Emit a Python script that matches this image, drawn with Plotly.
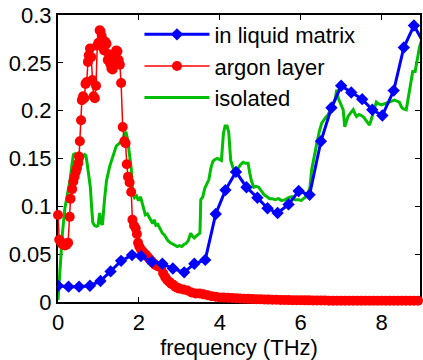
import plotly.graph_objects as go

# ---- data ----
blue_x = [0.00, 0.26, 0.52, 0.79, 1.05, 1.30, 1.56, 1.83, 2.05, 2.32, 2.58, 2.84, 3.12, 3.37, 3.64,
          3.90, 4.14, 4.40, 4.66, 4.93, 5.18, 5.43, 5.70, 5.95, 6.22, 6.50, 6.76, 7.00, 7.25, 7.52,
          7.77, 8.02, 8.30, 8.55, 8.80, 9.05]
blue_y = [0.017, 0.016, 0.016, 0.017, 0.022, 0.032, 0.043, 0.049, 0.048, 0.042, 0.040, 0.035, 0.031, 0.040, 0.044,
          0.092, 0.117, 0.136, 0.120, 0.109, 0.098, 0.093, 0.102, 0.116, 0.112, 0.168, 0.203, 0.226, 0.219, 0.212,
          0.201, 0.195, 0.221, 0.266, 0.289, 0.270]

red_x = [0.00, 0.03, 0.07, 0.10, 0.13, 0.17, 0.21, 0.25, 0.29, 0.31, 0.35, 0.38, 0.41, 0.44, 0.47,
         0.50, 0.52, 0.54, 0.57, 0.59, 0.62, 0.65, 0.68, 0.71, 0.74, 0.76, 0.79, 0.82, 0.85, 0.88,
         0.91, 0.94, 0.97, 1.00, 1.03, 1.05, 1.08, 1.11, 1.14, 1.17, 1.20, 1.23, 1.26, 1.29, 1.32,
         1.35, 1.38, 1.41, 1.44, 1.47, 1.50, 1.53, 1.56, 1.60, 1.64, 1.67, 1.70, 1.73, 1.77, 1.81,
         1.84, 1.88, 1.92, 1.95, 1.98, 2.01, 2.05, 2.09, 2.13, 2.18, 2.22, 2.26, 2.30, 2.35, 2.40,
         2.45, 2.50, 2.55, 2.60, 2.65, 2.70, 2.75, 2.80, 2.85, 2.90, 2.95, 3.00, 3.10, 3.20, 3.30,
         3.40, 3.50, 3.60, 3.70, 3.80, 3.90, 4.00, 4.10, 4.20, 4.30, 4.40, 4.50, 4.60, 4.70, 4.80,
         4.90, 5.00, 5.10, 5.20, 5.30, 5.40, 5.50, 5.60, 5.70, 5.80, 5.90, 6.00, 6.10, 6.20, 6.30,
         6.40, 6.50, 6.60, 6.70, 6.80, 6.90, 7.00, 7.10, 7.20, 7.30, 7.40, 7.50, 7.60, 7.70, 7.80,
         7.90, 8.00, 8.10, 8.20, 8.30, 8.40, 8.50, 8.60, 8.70, 8.80, 8.90]
red_y = [0.091, 0.065, 0.063, 0.061, 0.060, 0.059, 0.060, 0.062, 0.089, 0.108, 0.118, 0.126, 0.131, 0.136, 0.140,
         0.145, 0.152, 0.168, 0.190, 0.211, 0.215, 0.213, 0.228, 0.230, 0.251, 0.258, 0.265, 0.256, 0.232, 0.215,
         0.213, 0.226, 0.268, 0.271, 0.284, 0.283, 0.278, 0.271, 0.263, 0.272, 0.270, 0.253, 0.259, 0.249, 0.244,
         0.243, 0.250, 0.256, 0.263, 0.262, 0.253, 0.248, 0.229, 0.183, 0.168, 0.166, 0.144, 0.131, 0.125, 0.115,
         0.086, 0.080, 0.077, 0.071, 0.062, 0.058, 0.055, 0.053, 0.051, 0.049, 0.047, 0.045, 0.043, 0.041, 0.039,
         0.038, 0.037, 0.036, 0.030, 0.026, 0.023, 0.021, 0.019, 0.018, 0.016, 0.015, 0.014, 0.013, 0.012, 0.010,
         0.009, 0.009, 0.008, 0.007, 0.006, 0.0055, 0.0048, 0.0046, 0.0044, 0.0042, 0.0040, 0.0037, 0.0035, 0.0033, 0.0031,
         0.0030, 0.0028, 0.0027, 0.0025, 0.0024, 0.0023, 0.0022, 0.0021, 0.0020, 0.0019, 0.0019, 0.0018, 0.0017, 0.0017, 0.0016,
         0.0016, 0.0015, 0.0015, 0.0014, 0.0014, 0.0014, 0.0013, 0.0013, 0.0013, 0.0013, 0.0013, 0.0013, 0.0013, 0.0013, 0.0013,
         0.0013, 0.0013, 0.0013, 0.0013, 0.0013, 0.0013, 0.0013, 0.0013, 0.0013, 0.0013, 0.0013]

green_x = [0.00, 0.05, 0.11, 0.17, 0.25, 0.30, 0.34, 0.38, 0.42, 0.46, 0.50, 0.54, 0.58, 0.62, 0.66,
           0.69, 0.72, 0.77, 0.80, 0.83, 0.86, 0.90, 0.95, 0.99, 1.03, 1.07, 1.10, 1.15, 1.20, 1.28,
           1.36, 1.44, 1.52, 1.58, 1.63, 1.68, 1.72, 1.76, 1.81, 1.85, 1.89, 1.94, 1.99, 2.04, 2.08,
           2.12, 2.16, 2.21, 2.26, 2.30, 2.34, 2.38, 2.42, 2.47, 2.52, 2.58, 2.63, 2.67, 2.72, 2.78,
           2.83, 2.89, 2.95, 3.00, 3.06, 3.11, 3.16, 3.22, 3.28, 3.32, 3.37, 3.42, 3.47, 3.51, 3.53,
           3.58, 3.63, 3.68, 3.73, 3.78, 3.83, 3.88, 3.94, 3.99, 4.04, 4.09, 4.13, 4.18, 4.22, 4.27,
           4.33, 4.40, 4.46, 4.52, 4.58, 4.64, 4.70, 4.74, 4.78, 4.84, 4.90, 4.96, 5.04, 5.10, 5.17,
           5.23, 5.29, 5.37, 5.45, 5.53, 5.62, 5.70, 5.78, 5.86, 5.95, 6.01, 6.07, 6.13, 6.19, 6.23,
           6.27, 6.31, 6.36, 6.40, 6.46, 6.52, 6.60, 6.68, 6.76, 6.85, 6.89, 6.93, 6.99, 7.05, 7.09,
           7.13, 7.17, 7.24, 7.30, 7.34, 7.38, 7.44, 7.50, 7.56, 7.62, 7.70, 7.74, 7.79, 7.83, 7.87,
           7.93, 8.00, 8.06, 8.12, 8.20, 8.26, 8.32, 8.38, 8.44, 8.49, 8.53, 8.61, 8.65, 8.69, 8.73,
           8.77, 8.83, 8.87, 8.90, 8.94, 8.98]
green_y = [0.002, 0.037, 0.072, 0.098, 0.115, 0.128, 0.142, 0.154, 0.155, 0.153, 0.154, 0.151, 0.146, 0.152, 0.154,
           0.153, 0.145, 0.131, 0.120, 0.100, 0.083, 0.080, 0.079, 0.080, 0.093, 0.082, 0.081, 0.107, 0.127, 0.142,
           0.152, 0.163, 0.166, 0.168, 0.174, 0.178, 0.170, 0.155, 0.140, 0.113, 0.109, 0.111, 0.106, 0.110, 0.104,
           0.098, 0.091, 0.092, 0.088, 0.086, 0.082, 0.086, 0.080, 0.081, 0.077, 0.072, 0.070, 0.067, 0.064, 0.062,
           0.061, 0.060, 0.058, 0.059, 0.058, 0.060, 0.061, 0.064, 0.072, 0.069, 0.067, 0.069, 0.071, 0.072, 0.107,
           0.110, 0.119, 0.124, 0.128, 0.140, 0.147, 0.149, 0.150, 0.149, 0.148, 0.176, 0.184, 0.184, 0.178, 0.148,
           0.140, 0.134, 0.140, 0.144, 0.146, 0.145, 0.145, 0.135, 0.127, 0.120, 0.121, 0.120, 0.115, 0.112, 0.110,
           0.108, 0.108, 0.107, 0.108, 0.106, 0.107, 0.109, 0.110, 0.107, 0.107, 0.106, 0.108, 0.110, 0.114, 0.120,
           0.138, 0.148, 0.158, 0.166, 0.178, 0.187, 0.192, 0.196, 0.204, 0.211, 0.222, 0.213, 0.207, 0.201, 0.183,
           0.190, 0.194, 0.198, 0.201, 0.197, 0.194, 0.196, 0.195, 0.193, 0.190, 0.185, 0.190, 0.197, 0.205, 0.209,
           0.207, 0.206, 0.207, 0.208, 0.209, 0.210, 0.211, 0.210, 0.209, 0.204, 0.202, 0.201, 0.212, 0.222, 0.234,
           0.241, 0.241, 0.250, 0.260, 0.267, 0.272]

series_names = ["in liquid matrix", "argon layer", "isolated"]
x_ticks = [0, 2, 4, 6, 8]
y_ticks = [0, 0.05, 0.1, 0.15, 0.2, 0.25, 0.3]
y_tick_text = ["0", "0.05", "0.1", "0.15", "0.2", "0.25", "0.3"]

FONT = "Arial, Liberation Sans, sans-serif"
GREEN = "rgb(0,190,0)"

fig = go.Figure()
fig.add_trace(go.Scatter(x=green_x, y=green_y, mode="lines", name=series_names[2],
                         line=dict(color=GREEN, width=3)))
fig.add_trace(go.Scatter(x=red_x, y=red_y, mode="lines+markers", name=series_names[1],
                         line=dict(color="#ff0000", width=1.5),
                         marker=dict(symbol="circle", size=10, color="#ff0000"),
                         cliponaxis=False))
fig.add_trace(go.Scatter(x=blue_x, y=blue_y, mode="lines+markers", name=series_names[0],
                         line=dict(color="#0000ff", width=3),
                         marker=dict(symbol="diamond", size=9.5, color="#0000ff")))

axis_common = dict(showline=True, linecolor="black", linewidth=2, mirror="ticks",
                   ticks="inside", ticklen=5, tickwidth=1, tickcolor="black",
                   showgrid=False, zeroline=False, layer="below traces",
                   tickfont=dict(family=FONT, size=22, color="black"))

fig.update_layout(
    width=423, height=360,
    margin=dict(l=58, r=1, t=15, b=58),
    paper_bgcolor="white", plot_bgcolor="white",
    font=dict(family=FONT, size=22, color="black"),
    xaxis=dict(range=[0, 8.95], tickvals=x_ticks, ticktext=[str(v) for v in x_ticks],
               title=dict(text="frequency (THz)", font=dict(family=FONT, size=22), standoff=0),
               **axis_common),
    yaxis=dict(range=[0, 0.3], tickvals=y_ticks, ticktext=y_tick_text, **axis_common),
    legend=dict(x=0.225, y=1.005, xanchor="left", yanchor="top", traceorder="reversed",
                bgcolor="rgba(0,0,0,0)", itemwidth=65, tracegroupgap=0,
                font=dict(family=FONT, size=22, color="black")),
    showlegend=True,
)

fig.write_html("out.html")
